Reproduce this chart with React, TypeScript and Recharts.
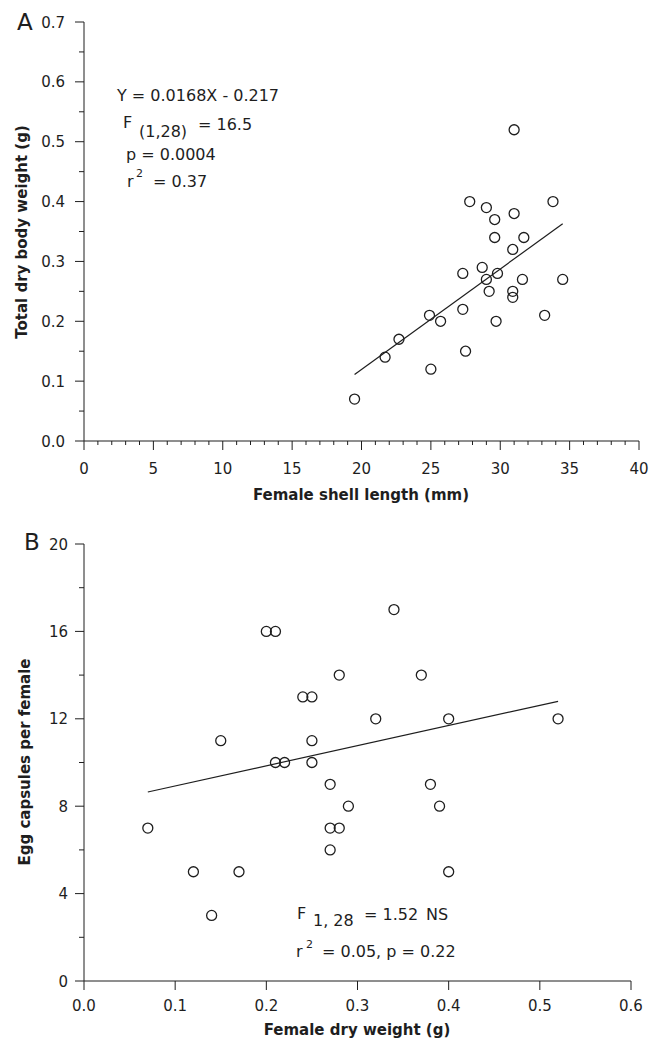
import React from 'react';
import { ScatterChart, Scatter, XAxis, YAxis, ReferenceLine } from 'recharts';

const FONT = '"DejaVu Sans", "Liberation Sans", sans-serif';
const INK = '#1e1e1e';

// ---------- Panel A data ----------
const shellLengthA = [19.5, 21.7, 22.7, 24.9, 25.7, 25.0, 27.3, 27.5, 27.3, 28.7, 29.0, 29.2, 29.8, 29.7, 30.9, 30.9, 31.6, 33.2, 34.5, 30.9, 31.0, 27.8, 29.0, 29.6, 31.0, 33.8, 29.6, 31.7];
const dryWeightA = [0.07, 0.14, 0.17, 0.21, 0.20, 0.12, 0.22, 0.15, 0.28, 0.29, 0.27, 0.25, 0.28, 0.20, 0.25, 0.24, 0.27, 0.21, 0.27, 0.32, 0.52, 0.40, 0.39, 0.37, 0.38, 0.40, 0.34, 0.34];
const fitLineA = [{ x: 19.5, y: 0.111 }, { x: 34.5, y: 0.363 }];

const xMajorA = [0, 5, 10, 15, 20, 25, 30, 35, 40];
const xMinorA = [1, 2, 3, 4, 6, 7, 8, 9, 11, 12, 13, 14, 16, 17, 18, 19, 21, 22, 23, 24, 26, 27, 28, 29, 31, 32, 33, 34, 36, 37, 38, 39];
const yMajorA = [0, 0.1, 0.2, 0.3, 0.4, 0.5, 0.6, 0.7];
const yMinorA = [0.05, 0.15, 0.25, 0.35, 0.45, 0.55, 0.65];

// ---------- Panel B data ----------
const dryWeightB = [0.21, 0.22, 0.25, 0.27, 0.38, 0.29, 0.39, 0.07, 0.27, 0.28, 0.27, 0.12, 0.17, 0.40, 0.14, 0.20, 0.21, 0.34, 0.28, 0.37, 0.24, 0.25, 0.32, 0.15, 0.25, 0.40, 0.52];
const eggCapsulesB = [10, 10, 10, 9, 9, 8, 8, 7, 7, 7, 6, 5, 5, 5, 3, 16, 16, 17, 14, 14, 13, 13, 12, 11, 11, 12, 12];
const fitLineB = [{ x: 0.07, y: 8.65 }, { x: 0.52, y: 12.8 }];

const xMajorB = [0, 0.1, 0.2, 0.3, 0.4, 0.5, 0.6];
const yMajorB = [0, 4, 8, 12, 16, 20];
const yMinorB = [2, 6, 10, 14, 18];

const pointsA = shellLengthA.map((x, i) => ({ x, y: dryWeightA[i] }));
const pointsB = dryWeightB.map((x, i) => ({ x, y: eggCapsulesB[i] }));

const isIn = (arr: number[], v: number) => arr.some((m) => Math.abs(m - v) < 1e-9);

const makeXTick = (majors: number[], fmt: (v: number) => string, labelDy: number) => (props: any) => {
  const { x, y, payload } = props;
  const v = payload.value;
  const major = isIn(majors, v);
  return (
    <g>
      <line x1={x} x2={x} y1={y} y2={y + (major ? 9 : 4)} stroke={INK} strokeWidth={1} />
      {major && (
        <text x={x} y={y + labelDy} textAnchor="middle" fontFamily={FONT} fontSize={15} fill={INK}>
          {fmt(v)}
        </text>
      )}
    </g>
  );
};

const makeYTick = (majors: number[], fmt: (v: number) => string, labelDx: number) => (props: any) => {
  const { x, y, payload } = props;
  const v = payload.value;
  const major = isIn(majors, v);
  return (
    <g>
      <line x1={x - (major ? 9 : 5)} x2={x} y1={y} y2={y} stroke={INK} strokeWidth={1} />
      {major && (
        <text x={x - labelDx} y={y + 5.5} textAnchor="end" fontFamily={FONT} fontSize={15} fill={INK}>
          {fmt(v)}
        </text>
      )}
    </g>
  );
};

const circleShape = (p: any) => (
  <circle cx={p.cx} cy={p.cy} r={5} fill="none" stroke={INK} strokeWidth={1.3} />
);

const XTickA = makeXTick(xMajorA, (v) => String(v), 32.5);
const YTickA = makeYTick(yMajorA, (v) => v.toFixed(1), 19);
const XTickB = makeXTick(xMajorB, (v) => v.toFixed(1), 30);
const YTickB = makeYTick(yMajorB, (v) => String(v), 16);

const sortNum = (a: number[]) => [...a].sort((p, q) => p - q);

export default function App() {
  return (
    <div style={{ position: 'absolute', left: 0, top: 0, width: 657, height: 1044, background: '#fff' }}>
      <div style={{ position: 'absolute', left: 0, top: 0 }}>
        <ScatterChart width={657} height={520} margin={{ top: 22, right: 18, bottom: 19, left: 0 }}>
          <XAxis
            type="number"
            dataKey="x"
            domain={[0, 40]}
            ticks={sortNum([...xMajorA, ...xMinorA])}
            interval={0}
            tickLine={false}
            tickSize={0}
            tickMargin={0}
            tick={XTickA}
            axisLine={{ stroke: INK, strokeWidth: 1 }}
            height={60}
            allowDataOverflow
          />
          <YAxis
            type="number"
            dataKey="y"
            domain={[0, 0.7]}
            ticks={sortNum([...yMajorA, ...yMinorA])}
            interval={0}
            tickLine={false}
            tickSize={0}
            tickMargin={0}
            tick={YTickA}
            axisLine={{ stroke: INK, strokeWidth: 1 }}
            width={84}
            allowDataOverflow
          />
          <ReferenceLine segment={fitLineA} stroke={INK} strokeWidth={1.2} />
          <Scatter data={pointsA} shape={circleShape} isAnimationActive={false} />
        </ScatterChart>
      </div>
      <div style={{ position: 'absolute', left: 0, top: 520 }}>
        <ScatterChart width={657} height={524} margin={{ top: 24, right: 26, bottom: 13, left: 0 }}>
          <XAxis
            type="number"
            dataKey="x"
            domain={[0, 0.6]}
            ticks={xMajorB}
            interval={0}
            tickLine={false}
            tickSize={0}
            tickMargin={0}
            tick={XTickB}
            axisLine={{ stroke: INK, strokeWidth: 1 }}
            height={50}
            allowDataOverflow
          />
          <YAxis
            type="number"
            dataKey="y"
            domain={[0, 20]}
            ticks={sortNum([...yMajorB, ...yMinorB])}
            interval={0}
            tickLine={false}
            tickSize={0}
            tickMargin={0}
            tick={YTickB}
            axisLine={{ stroke: INK, strokeWidth: 1 }}
            width={84}
            allowDataOverflow
          />
          <ReferenceLine segment={fitLineB} stroke={INK} strokeWidth={1.2} />
          <Scatter data={pointsB} shape={circleShape} isAnimationActive={false} />
        </ScatterChart>
      </div>
      <svg
        width={657}
        height={1044}
        style={{ position: 'absolute', left: 0, top: 0, pointerEvents: 'none' }}
        fontFamily={FONT}
        fill={INK}
      >
        {/* Panel labels */}
        <text x={17} y={30} fontSize={23}>A</text>
        <text x={24} y={550} fontSize={23}>B</text>

        {/* Axis titles */}
        <text x={361} y={500} fontSize={15} fontWeight="bold" textAnchor="middle">Female shell length (mm)</text>
        <text x={357} y={1035} fontSize={15} fontWeight="bold" textAnchor="middle">Female dry weight (g)</text>
        <text transform="translate(27,232) rotate(-90)" fontSize={15} fontWeight="bold" textAnchor="middle">Total dry body weight (g)</text>
        <text transform="translate(30,762) rotate(-90)" fontSize={15} fontWeight="bold" textAnchor="middle">Egg capsules per female</text>

        {/* Panel A statistics */}
        <text x={117} y={101} fontSize={16}>Y = 0.0168X - 0.217</text>
        <text x={123} y={128} fontSize={16}>F</text>
        <text x={139} y={137} fontSize={16}>(1,28)</text>
        <text x={198} y={130} fontSize={16}>= 16.5</text>
        <text x={126} y={160} fontSize={16}>p = 0.0004</text>
        <text x={127} y={187} fontSize={16}>r</text>
        <text x={136} y={177} fontSize={11}>2</text>
        <text x={153} y={187} fontSize={16}>= 0.37</text>

        {/* Panel B statistics */}
        <text x={297} y={919} fontSize={16}>F</text>
        <text x={313} y={926} fontSize={16}>1, 28</text>
        <text x={364} y={920} fontSize={16}>= 1.52</text>
        <text x={426} y={920} fontSize={16}>NS</text>
        <text x={296} y={957} fontSize={16}>r</text>
        <text x={306} y={948} fontSize={11}>2</text>
        <text x={322} y={957} fontSize={16}>= 0.05, p = 0.22</text>
      </svg>
    </div>
  );
}
